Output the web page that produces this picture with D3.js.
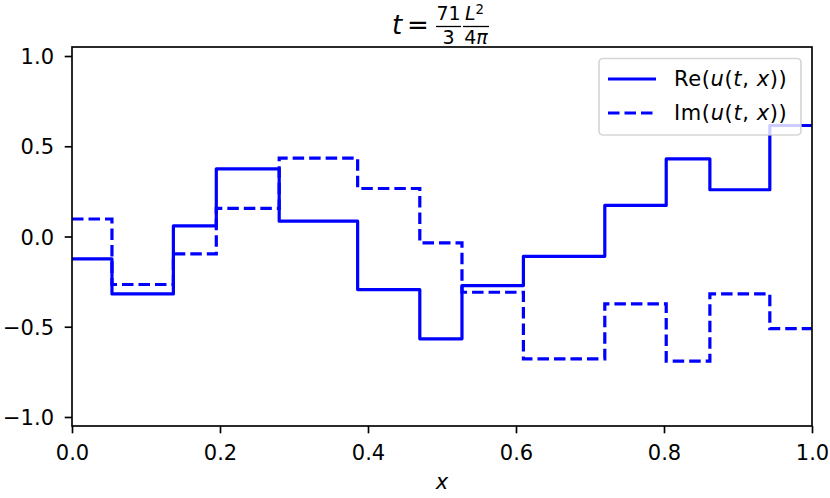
<!DOCTYPE html>
<html>
<head>
<meta charset="utf-8">
<script src="https://cdn.jsdelivr.net/npm/d3@7"></script>
<style>
  body { margin: 0; background: #fff; }
  svg { font-family: 'DejaVu Sans', sans-serif; display: block; }
</style>
</head>
<body>
<svg width="830" height="498"></svg>
<script>
// step positions along x and the level of each step
const breaks = [0, 0.054, 0.137, 0.195, 0.28, 0.386, 0.47, 0.527, 0.61, 0.72, 0.803, 0.862, 0.943, 1.0];
const reLevels = [-0.124, -0.318, 0.059, 0.375, 0.085, -0.294, -0.567, -0.272, -0.11, 0.172, 0.43, 0.259, 0.615];
const imLevels = [0.097, -0.266, -0.096, 0.156, 0.434, 0.266, -0.035, -0.309, -0.678, -0.373, -0.69, -0.318, -0.511];
const xTicks = [0, 0.2, 0.4, 0.6, 0.8, 1.0];
const yTicks = [-1, -0.5, 0, 0.5, 1];
const seriesNames = ['Re', 'Im'];

const svg = d3.select('svg');
const margin = { top: 47, right: 18, bottom: 72, left: 72 };
const width = +svg.attr('width');
const height = +svg.attr('height');
const fs = 21;
const blue = '#0000ff';

let xScale = d3.scaleLinear().domain([0, 1]).range([margin.left, width - margin.right]);
let yScale = d3.scaleLinear().domain([-1.05, 1.05]).range([height - margin.bottom, margin.top]);

svg.append('clipPath').attr('id', 'clip')
    .append('rect')
    .attr('x', margin.left).attr('y', margin.top)
    .attr('width', width - margin.left - margin.right)
    .attr('height', height - margin.top - margin.bottom);

let toPoints = (levels) => {
    let pts = levels.map((v, i) => ({ x: breaks[i], y: v }));
    pts.push({ x: breaks[breaks.length - 1], y: levels[levels.length - 1] });
    return pts;
}

const line = d3.line()
    .x(d => xScale(d.x))
    .y(d => yScale(d.y))
    .curve(d3.curveStepAfter);

const plot = svg.append('g').attr('clip-path', 'url(#clip)');

plot.append('path')
    .datum(toPoints(reLevels))
    .attr('d', line)
    .attr('fill', 'none')
    .attr('stroke', blue)
    .attr('stroke-width', 3.2)
    .attr('stroke-linejoin', 'round');

plot.append('path')
    .datum(toPoints(imLevels))
    .attr('d', line)
    .attr('fill', 'none')
    .attr('stroke', blue)
    .attr('stroke-width', 3.2)
    .attr('stroke-dasharray', '11.5,5');

// axes
const fmt = d3.format('.1f');
const xAxis = d3.axisBottom(xScale).tickValues(xTicks).tickFormat(fmt).tickSizeInner(7.3).tickSizeOuter(0).tickPadding(7);
const yAxis = d3.axisLeft(yScale).tickValues(yTicks).tickFormat(fmt).tickSizeInner(7.3).tickSizeOuter(0).tickPadding(7);

const gx = svg.append('g')
    .attr('transform', 'translate(0,' + (height - margin.bottom) + ')')
    .call(xAxis);
const gy = svg.append('g')
    .attr('transform', 'translate(' + margin.left + ',0)')
    .call(yAxis);

[gx, gy].forEach(g => {
    g.select('.domain').remove();
    g.selectAll('.tick line').attr('stroke', '#000').attr('stroke-width', 1.67);
    g.selectAll('.tick text')
        .attr('fill', '#000')
        .style('font-family', 'DejaVu Sans')
        .style('font-size', fs + 'px');
});
gx.selectAll('.tick text').attr('y', 15).attr('dy', '0.9em');
gy.selectAll('.tick text').attr('x', -18).attr('dy', '0.36em');

// frame
svg.append('rect')
    .attr('x', margin.left).attr('y', margin.top)
    .attr('width', width - margin.left - margin.right)
    .attr('height', height - margin.top - margin.bottom)
    .attr('fill', 'none')
    .attr('stroke', '#000')
    .attr('stroke-width', 1.67);

// x label
svg.append('text')
    .attr('x', (margin.left + width - margin.right) / 2)
    .attr('y', 489)
    .attr('text-anchor', 'middle')
    .style('font-size', fs + 'px')
    .style('font-style', 'italic')
    .text('x');

// title t = 71/3 L^2/4pi
const title = svg.append('g');
const tfs = 26, ffs = 19;
title.append('text').attr('x', 392).attr('y', 34)
    .style('font-size', tfs + 'px').style('font-style', 'italic').text('t');
title.append('text').attr('x', 407).attr('y', 34)
    .style('font-size', tfs + 'px').text('=');
title.append('line').attr('x1', 436).attr('x2', 461).attr('y1', 26.5).attr('y2', 26.5)
    .attr('stroke', '#000').attr('stroke-width', 1.3);
title.append('text').attr('x', 448.5).attr('y', 20).attr('text-anchor', 'middle')
    .style('font-size', ffs + 'px').text('71');
title.append('text').attr('x', 448.5).attr('y', 44).attr('text-anchor', 'middle')
    .style('font-size', ffs + 'px').text('3');
title.append('line').attr('x1', 463).attr('x2', 489).attr('y1', 26.5).attr('y2', 26.5)
    .attr('stroke', '#000').attr('stroke-width', 1.3);
const num = title.append('text').attr('x', 465).attr('y', 20)
    .style('font-size', ffs + 'px');
num.append('tspan').style('font-style', 'italic').text('L');
num.append('tspan').attr('dy', -6).style('font-size', (ffs * 0.7) + 'px').text('2');
const den = title.append('text').attr('x', 476).attr('y', 44).attr('text-anchor', 'middle')
    .style('font-size', ffs + 'px');
den.append('tspan').text('4');
den.append('tspan').style('font-style', 'italic').text('π');

// legend
const legend = svg.append('g');
legend.append('rect')
    .attr('x', 599).attr('y', 58.5)
    .attr('width', 202).attr('height', 76.5)
    .attr('rx', 4)
    .attr('fill', '#fff').attr('fill-opacity', 0.8)
    .attr('stroke', '#cccccc').attr('stroke-opacity', 0.8)
    .attr('stroke-width', 1.67);

seriesNames.forEach((name, i) => {
    let yy = 79 + i * 34;
    legend.append('line')
        .attr('x1', 608).attr('x2', 656)
        .attr('y1', yy).attr('y2', yy)
        .attr('stroke', blue).attr('stroke-width', 3.2)
        .attr('stroke-dasharray', i === 1 ? '11.5,5' : null);
    let t = legend.append('text')
        .attr('x', 674).attr('y', yy + 7.3)
        .style('font-size', fs + 'px')
        .style('letter-spacing', '0.6px');
    t.append('tspan').text(name + '(');
    t.append('tspan').style('font-style', 'italic').text('u');
    t.append('tspan').text('(');
    t.append('tspan').style('font-style', 'italic').text('t');
    t.append('tspan').text(', ');
    t.append('tspan').style('font-style', 'italic').text('x');
    t.append('tspan').text('))');
});
</script>
</body>
</html>
